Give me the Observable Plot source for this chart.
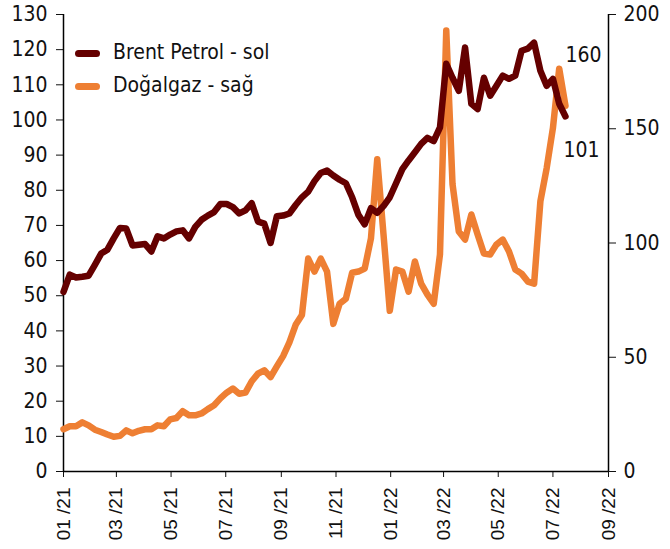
<!DOCTYPE html>
<html>
<head>
<meta charset="utf-8">
<script src="https://cdn.jsdelivr.net/npm/d3@7"></script>
<script src="https://cdn.jsdelivr.net/npm/@observablehq/plot@0.6"></script>
<style>
  html, body { margin: 0; padding: 0; background: #fff; }
  #wrap { position: relative; width: 670px; height: 549px; overflow: hidden; }
  .legend { position: absolute; left: 75px; top: 35px; font-family: "DejaVu Sans Condensed", "DejaVu Sans", sans-serif; font-size: 21px; color: #111; }
  .legend .row { display: flex; align-items: center; height: 33px; }
  .legend .sw { width: 25px; height: 7px; border-radius: 4px; margin-right: 13px; margin-top: 3px; }
</style>
</head>
<body>
<div id="wrap"></div>
<script>
// ---- data (weekly, starting 01/01/2021) ----
const startDate = "2021-01-01";
const brent = [51.1, 56.0, 55.2, 55.4, 55.7, 58.8, 62.0, 63.1, 66.3, 69.3,
  69.1, 64.3, 64.5, 64.7, 62.6, 66.9, 66.3, 67.4, 68.3, 68.6,
  66.3, 69.6, 71.6, 72.8, 73.8, 76.1, 76.1, 75.2, 73.4, 74.3,
  76.3, 71.1, 70.5, 65.0, 72.6, 72.8, 73.4, 75.8, 78.0, 79.6,
  82.6, 84.9, 85.6, 84.2, 83.0, 82.0, 78.0, 73.0, 70.3, 74.9,
  73.6, 75.5, 78.0, 82.0, 86.0, 88.5, 90.8, 93.2, 94.9, 94.0,
  97.9, 116.0, 112.0, 108.3, 120.6, 104.6, 103.1, 112.0, 106.9, 109.7,
  112.6, 111.7, 112.6, 119.7, 120.3, 122.0, 114.0, 109.7, 111.7, 104.6,
  101.0];
const gas = [18.5, 19.8, 19.8, 21.5, 20.2, 18.3, 17.3, 16.2, 15.2, 15.6,
  18.0, 16.7, 17.8, 18.5, 18.5, 20.2, 19.8, 22.8, 23.4, 26.4,
  24.6, 24.6, 25.4, 27.3, 29.0, 32.0, 34.5, 36.3, 34.0, 34.5,
  39.5, 42.8, 44.3, 41.3, 46.0, 50.5, 56.5, 64.2, 68.5, 93.2,
  87.5, 93.2, 87.5, 64.6, 73.4, 75.6, 87.0, 87.5, 88.8, 102.0,
  136.7, 103.7, 70.3, 88.4, 87.5, 78.7, 91.9, 82.2, 77.4, 73.4,
  95.0, 193.0, 125.7, 105.0, 101.5, 112.5, 103.7, 95.4, 95.0, 99.3,
  101.5, 96.3, 88.4, 86.6, 83.1, 82.2, 118.2, 132.7, 150.3, 176.3,
  160.0];
const seriesNames = ["Brent Petrol - sol", "Doğalgaz - sağ"];
const seriesColors = ["#650000", "#EE7F33"];
const leftTicks = [0, 10, 20, 30, 40, 50, 60, 70, 80, 90, 100, 110, 120, 130];
const rightTicks = [0, 50, 100, 150, 200];
const xTickLabels = ["2021-01-01", "2021-03-01", "2021-05-01", "2021-07-01", "2021-09-01", "2021-11-01",
  "2022-01-01", "2022-03-01", "2022-05-01", "2022-07-01", "2022-09-01"];

// ---- build ----
const leftMax = 130, rightMax = 200;
const toLeft = v => v * leftMax / rightMax;
const t0 = new Date(startDate);
const dates = brent.map((_, i) => d3.utcDay.offset(t0, 7 * i));
const xTicks = xTickLabels.map(s => new Date(s));
const brentData = brent.map((v, i) => ({date: dates[i], value: v, raw: v}));
const gasData = gas.map((v, i) => ({date: dates[i], value: toLeft(v), raw: v}));
const lastB = brentData[brentData.length - 1];
const lastG = gasData[gasData.length - 1];

const font = "DejaVu Sans Condensed, DejaVu Sans, sans-serif";
const chart = Plot.plot({
  width: 670,
  height: 549,
  marginLeft: 63,
  marginRight: 62,
  marginTop: 14,
  marginBottom: 78,
  style: {fontFamily: font, fontSize: "21px", color: "#111", background: "#fff"},
  x: {type: "utc", domain: [xTicks[0], xTicks[xTicks.length - 1]], label: null},
  y: {domain: [0, leftMax], label: null},
  marks: [
    Plot.axisY({anchor: "left", ticks: leftTicks, tickSize: 7, tickPadding: 9, fontSize: 21, fontFamily: font, label: null, tickFormat: d3.format("d")}),
    Plot.axisY({anchor: "right", ticks: rightTicks.map(toLeft), tickSize: 7, tickPadding: 8, fontSize: 21, fontFamily: font, label: null, tickFormat: d => String(Math.round(d * rightMax / leftMax))}),
    Plot.axisX({ticks: xTicks, tickFormat: d3.utcFormat("%m /%y"), tickRotate: -90, tickSize: 6, tickPadding: 10, fontSize: 19, fontFamily: "Liberation Sans, Arial, sans-serif", label: null}),
    Plot.ruleY([0], {stroke: "#000", strokeWidth: 1.5}),
    Plot.ruleX([xTicks[0], xTicks[xTicks.length - 1]], {stroke: "#000", strokeWidth: 1.5}),
    Plot.line(gasData, {x: "date", y: "value", stroke: seriesColors[1], strokeWidth: 6.5, strokeLinejoin: "round", strokeLinecap: "round"}),
    Plot.line(brentData, {x: "date", y: "value", stroke: seriesColors[0], strokeWidth: 6.5, strokeLinejoin: "round", strokeLinecap: "round"}),
    Plot.text([lastG], {x: "date", y: "value", text: d => String(Math.round(d.raw)), textAnchor: "start", dx: 0, dy: -51, fontSize: 21, fill: "#111"}),
    Plot.text([lastB], {x: "date", y: "value", text: d => String(Math.round(d.raw)), textAnchor: "start", dx: -2, dy: 34, fontSize: 21, fill: "#111"})
  ]
});

const wrap = document.getElementById("wrap");
wrap.appendChild(chart);
const legend = document.createElement("div");
legend.className = "legend";
seriesNames.forEach((name, i) => {
  const row = document.createElement("div");
  row.className = "row";
  const sw = document.createElement("span");
  sw.className = "sw";
  sw.style.background = seriesColors[i];
  const tx = document.createElement("span");
  tx.textContent = name;
  row.appendChild(sw);
  row.appendChild(tx);
  legend.appendChild(row);
});
wrap.appendChild(legend);
</script>
</body>
</html>
